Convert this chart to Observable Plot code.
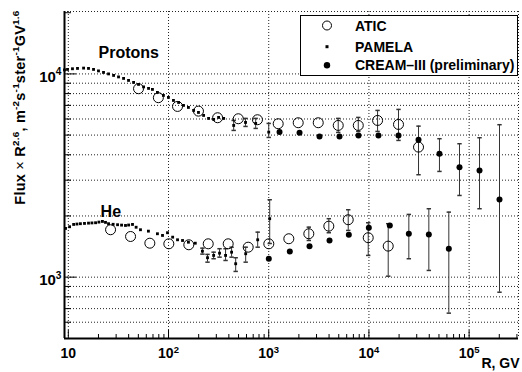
<!DOCTYPE html>
<html><head><meta charset="utf-8">
<script src="https://cdn.jsdelivr.net/npm/d3@7"></script>
<script src="https://cdn.jsdelivr.net/npm/@observablehq/plot@0.6"></script>
<style>
body{margin:0;background:#fff;}
#wrap{position:relative;width:522px;height:372px;font-family:"Liberation Sans",Arial,sans-serif;font-weight:bold;}
#legend{position:absolute;left:300px;top:15px;}
</style></head><body><div id="wrap"></div>
<script>
// ---------- data (R in GV, flux × R^2.6; optional [hi, lo] error) ----------
const seriesNames = ["ATIC", "PAMELA", "CREAM–III (preliminary)"];
const xTicks = [10, 100, 1000, 10000, 100000];
const xTickLabels = ["10", "10^{2}", "10^{3}", "10^{4}", "10^{5}"];
const yTicks = [1000, 10000];
const yTickLabels = ["10^{3}", "10^{4}"];
const xTitle = "R, GV";
const yTitle = "Flux × R^{2.6}, m^{-2}s^{-1}ster^{-1}GV^{1.6}";
const groupLabels = [{text: "Protons", R: 20, F: 12760}, {text: "He", R: 21, F: 2098}];

const pamelaProton = [[9.16,10464],[9.82,10522],[11.0,10600],[12.35,10644],[14.2,10680],[15.9,10644],[17.85,10522],[20.0,10346],[22.45,10171],[25.2,10000],[28.3,9831],[31.7,9665],[35.6,9503],[39.9,9290],[44.8,9081],[50.2,8878],[56.4,8630],[63.2,8486],[69.1,8390],[77.5,8110],[88.9,7839],[99.8,7663],[112,7404],[126,7237],[141,6998],[158,6840],[178,6612],[199,6463],[224,6248],[251,6040],[282,5972],[316,6107],[355,6040],[447,5577,5902,5272],[587,5771,6040,5515],[741,5706,6040,5393],[1000,5171,5706,4869]];
const aticProton = [[50.2,8456],[79.2,7638],[123,6918],[199,6559],[309,6086],[497,6017],[772,5950],[1243,5686],[1969,5751],[3120,5751],[4940,5578,6040,5154],[7830,5578,6107,5213],[12200,5902,6612,5213],[19730,5642,6688,4707],[31260,4363,5534,3191]];
const creamProton = [[1282,5171],[2030,5136],[3212,4925],[5085,4925],[7870,4981],[12450,4981],[19730,4981],[31260,4745],[50580,4048,4799,3313],[80150,3478,4534,2523],[127000,3350,4853,2171],[201000,2412,5624,843]];

const pamelaHe = [[9.38,1737],[10.3,1770],[11.3,1817],[12.2,1825],[13.2,1832],[14.5,1838],[15.9,1844],[17.2,1848],[18.7,1852],[20.2,1866],[21.9,1880],[23.5,1860],[25.2,1832],[28,1820],[31.0,1811],[34,1803],[37.2,1796],[40,1805],[43.7,1817],[47.5,1760],[52.5,1711],[63,1684],[77.5,1635],[87.1,1604],[97.7,1654],[110,1573],[123,1527],[138,1515],[158,1486],[185,1469],[218,1342,1389,1298],[245,1246,1294,1185],[282,1279,1327,1232],[323,1312,1380,1254],[371,1279,1380,1208],[426,1327,1404,1254],[468,1164,1246,1067],[589,1304,1404,1185],[776,1527,1665,1404],[1023,1939,2404,1464]];
const aticHe = [[26.4,1711],[41.8,1585],[65.1,1469],[100.7,1459],[159.4,1443],[249,1459],[394,1459],[624,1404],[1002,1459],[1587,1545],[2513,1635,1762,1515],[3979,1782,1939,1654],[6216,1916,2146,1698],[9840,1563,1852,1279],[15580,1421,1832,1011]];
const creamHe = [[1002,1232],[1624,1338],[2554,1421],[4044,1515],[6301,1617],[9977,1750],[16160,1796],[25020,1635,2035,1232],[39620,1622,2171,1079],[62720,1380,2089,665]];

// ---------- scales ----------
const xDomain = [9.16, 3.11e5];
const yDomain = [499, 20280];

const xMinor = [];
for (const d of [10, 100, 1000, 10000, 100000]) for (let k = 2; k <= 9; k++) if (d * k <= xDomain[1]) xMinor.push(d * k);
const yMinor = [600, 700, 800, 900, 2000, 3000, 4000, 5000, 6000, 7000, 8000, 9000, 20000];
const yGrid = [600, 700, 800, 900, 1000, 2000, 3000, 4000, 5000, 6000, 7000, 8000, 9000, 10000];

const aticAll = [...aticProton, ...aticHe];
const pamelaAll = [...pamelaProton, ...pamelaHe];
const creamAll = [...creamProton, ...creamHe];
const errs = [...pamelaAll, ...aticAll, ...creamAll].filter(d => d.length > 2);

const cap = {draw(ctx, size) { const w = Math.sqrt(size / Math.PI); ctx.moveTo(-w, 0); ctx.lineTo(w, 0); }};
const gridStyle = {stroke: "#222", strokeDasharray: "1,2", strokeWidth: 1};
const X = d => d[0], Y = d => d[1];

const chart = Plot.plot({
  width: 522, height: 372,
  marginLeft: 64, marginRight: 4, marginTop: 11, marginBottom: 34,
  style: {fontFamily: '"Liberation Sans", Arial, sans-serif', fontWeight: "bold", background: "white"},
  x: {type: "log", domain: xDomain},
  y: {type: "log", domain: yDomain},
  marks: [
    Plot.ruleX(xTicks, {...gridStyle}),
    Plot.ruleY(yGrid, {...gridStyle}),
    Plot.ruleX([xDomain[1]], {...gridStyle}),
    Plot.ruleY([yDomain[1]], {...gridStyle}),
    Plot.ruleX([xDomain[0]], {stroke: "black", strokeWidth: 2}),
    Plot.ruleY([yDomain[0]], {stroke: "black", strokeWidth: 2}),
    Plot.axisX({ticks: xTicks, tickSize: -8, tickFormat: () => "", label: null}),
    Plot.axisX({ticks: xMinor, tickSize: -4, tickFormat: () => "", label: null}),
    Plot.axisY({ticks: yTicks, tickSize: -12, tickFormat: () => "", label: null}),
    Plot.axisY({ticks: yMinor, tickSize: -7, tickFormat: () => "", label: null}),
    Plot.axisX({ticks: xTicks, tickSize: 0, tickPadding: 10, fontSize: 14, label: null,
      tickFormat: d => xTickLabels[xTicks.indexOf(d)]}),
    Plot.axisY({ticks: yTicks, tickSize: 0, tickPadding: 3, fontSize: 15, dy: 3, label: null,
      tickFormat: d => yTickLabels[yTicks.indexOf(d)]}),
    Plot.ruleX(errs, {x: X, y1: d => d[2], y2: d => d[3], stroke: "#333", strokeWidth: 1}),
    Plot.dot(errs, {x: X, y: d => d[2], symbol: cap, r: 2.2, stroke: "#333", fill: "none"}),
    Plot.dot(errs, {x: X, y: d => d[3], symbol: cap, r: 2.2, stroke: "#333", fill: "none"}),
    Plot.dot(pamelaAll, {x: X, y: Y, symbol: "square", r: 1.6, fill: "black"}),
    Plot.dot(creamAll, {x: X, y: Y, r: 3, fill: "black"}),
    Plot.dot(aticAll, {x: X, y: Y, r: 5, stroke: "black", strokeWidth: 1, fill: "none"}),
    Plot.text(groupLabels, {x: "R", y: "F", text: "text", textAnchor: "start", fontSize: 16, fontWeight: "bold"}),
    Plot.text([xTitle], {frameAnchor: "bottom-right", dx: 1, dy: 25, textAnchor: "end", lineAnchor: "middle", fontSize: 14, fontWeight: "bold"}),
    Plot.text([yTitle], {frameAnchor: "top-left", dx: -44, dy: -1, rotate: -90, textAnchor: "end", lineAnchor: "middle", fontSize: 14.5, fontWeight: "bold"})
  ]
});

// rich text: superscripts and the light "×"
const NS = "http://www.w3.org/2000/svg";
function rich(el) {
  const str = el.textContent;
  if (!/\^\{|×/.test(str)) return false;
  const fs = parseFloat(getComputedStyle(el).fontSize) || 14;
  el.textContent = "";
  const re = /\^\{([^}]*)\}|(×)|([^\^×]+)/g;
  let m, raised = false;
  while ((m = re.exec(str))) {
    const t = document.createElementNS(NS, "tspan");
    if (m[1] !== undefined) {
      t.textContent = m[1];
      t.setAttribute("font-size", (fs * 0.68).toFixed(1));
      t.setAttribute("dy", (-fs * 0.42).toFixed(1));
      raised = true;
    } else {
      t.textContent = m[2] || m[3];
      if (raised) { t.setAttribute("dy", (fs * 0.42).toFixed(1)); raised = false; }
      if (m[2]) t.setAttribute("font-weight", "normal");
    }
    el.appendChild(t);
  }
  return true;
}
const wrap = document.getElementById("wrap");
wrap.appendChild(chart);
chart.querySelectorAll("text").forEach(el => {
  const isTitle = el.textContent === yTitle;
  rich(el);
  if (isTitle) {
    // stretch the long axis title to the span it has in the reference
    const len = el.getComputedTextLength(), n = el.getNumberOfChars();
    const target = 194;
    if (len < target && n > 1) el.style.letterSpacing = ((target - len) / (n - 1)).toFixed(2) + "px";
  }
});

// legend box (overlay inside the frame)
const lg = d3.select(wrap).append("svg").attr("id", "legend").attr("width", 219).attr("height", 62);
lg.append("rect").attr("x", 0.5).attr("y", 0.5).attr("width", 217).attr("height", 60).attr("fill", "white").attr("stroke", "black");
const rowsY = [10.5, 31.7, 50.3];
seriesNames.forEach((name, i) => {
  const g = lg.append("g").attr("transform", `translate(27,${rowsY[i]})`);
  if (i === 0) g.append("circle").attr("r", 4.5).attr("fill", "none").attr("stroke", "black");
  if (i === 1) g.append("rect").attr("x", -1.5).attr("y", -1.5).attr("width", 3).attr("height", 3).attr("fill", "black");
  if (i === 2) g.append("circle").attr("r", 3.2).attr("fill", "black");
  lg.append("text").attr("x", 55).attr("y", rowsY[i]).attr("dy", "0.36em")
    .attr("font-size", 14).attr("font-weight", "bold").attr("font-family", '"Liberation Sans", Arial, sans-serif').text(name);
});
</script></body></html>
